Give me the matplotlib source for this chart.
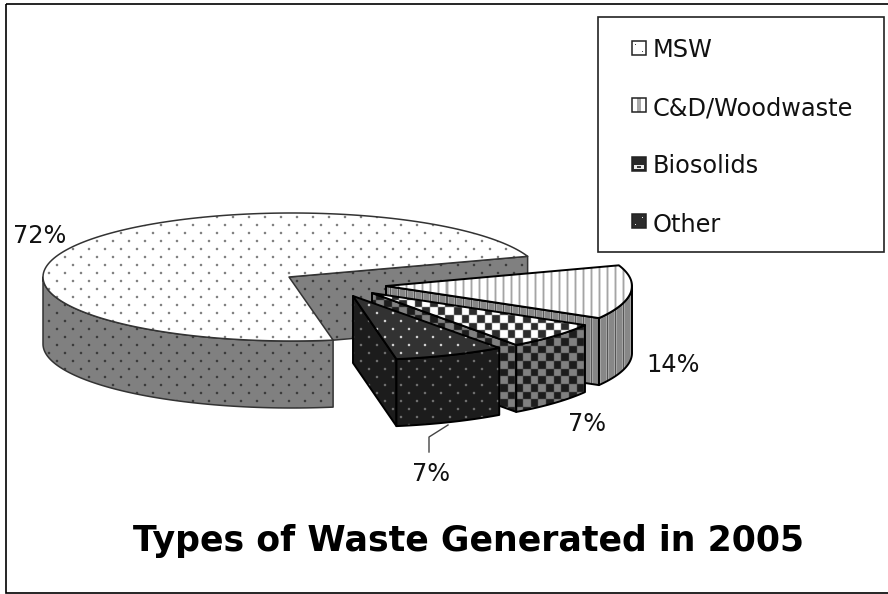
import numpy as np
import matplotlib
matplotlib.use("Agg")
import matplotlib.pyplot as plt
from matplotlib.patches import Polygon, Rectangle

# ---- data ----
categories = ["MSW", "C&D/Woodwaste", "Biosolids", "Other"]
shares = [72.4, 13.6, 6.7, 7.3]
title_text = "Types of Waste Generated in 2005"

# ---- layout (pixels) ----
W, H = 888, 594
RX = [249.0, 245.0, 245.0, 245.0]
RY, DEPTH = 64.0, 67.0
START_ANGLE = 279.5
APEX = [(289, 277), (386, 286), (372, 293), (353, 296)]
RIM_CENTER = [(292, 277), (387, 286), (373, 293), (356, 296)]
LABEL_POS = [(13, 243), (646, 372), (568, 431), (412, 481)]
LEGEND_Y = [57, 115, 173, 232]
SWATCH_Y = [41, 98, 157, 214]

yy, xx = np.mgrid[0:H, 0:W]


def soften(a):
    k = 0.12
    out = a * (1 - 4 * k)
    for ax_, s in ((0, 1), (0, -1), (1, 1), (1, -1)):
        out = out + k * np.roll(a, s, axis=ax_)
    return out


def dots(bg, fg):
    row = yy // 8
    mask = (((xx + 8 * (row % 2)) % 16) < 2) & ((yy % 8) < 2)
    return soften(np.where(mask, fg, bg).astype(float))


def stripes(bg, fg, mid):
    m = xx % 8
    a = np.full((H, W), float(bg))
    a[m == 5] = mid
    a[m == 6] = fg
    a[m == 7] = mid
    return a


def checks(c1, c2):
    m = (np.floor(xx / 7.67) + np.floor(yy / 7.67)) % 2
    return soften(np.where(m == 0, c1, c2).astype(float))


top_tex = [dots(255, 90), stripes(255, 165, 215), checks(255, 45), dots(50, 255)]
side_tex = [dots(128, 40), stripes(135, 85, 165), checks(128, 28), dots(28, 135)]
edges = ["#333333", "black", "black", "black"]
widths = [1.1, 1.4, 1.4, 1.4]

fig = plt.figure(figsize=(W / 100, H / 100), dpi=100)
ax = fig.add_axes([0, 0, 1, 1])
ax.set_xlim(0, W)
ax.set_ylim(H, 0)
ax.axis("off")

ax_z = [2]


def face(pts, tex, edge, lw):
    poly = Polygon(np.asarray(pts), closed=True, fc="none", ec=edge, lw=lw,
                   joinstyle="round", zorder=ax_z[0] + 1)
    im = ax.imshow(tex, extent=(0, W, H, 0), cmap="gray", vmin=0, vmax=255,
                   interpolation="nearest", aspect="auto", zorder=ax_z[0])
    ax.add_patch(poly)
    im.set_clip_path(poly)
    ax_z[0] += 2


def rim(c, rx, t0, t1, n=80):
    t = np.radians(np.linspace(t0, t1, n))
    return np.column_stack([c[0] + rx * np.cos(t), c[1] - RY * np.sin(t)])


def wedge_edges(vals, start):
    # slices run clockwise from start
    out = []
    a = start
    for v in vals:
        b = a - v * 3.6
        out.append((b, a))  # (t0, t1) counter-clockwise
        a = b
    return out


for i, (t0, t1) in enumerate(wedge_edges(shares, START_ANGLE)):
    apex = np.array(APEX[i], float)
    c = np.array(RIM_CENTER[i], float)
    rx = RX[i]
    drop = np.array([0, DEPTH])
    end0 = rim(c, rx, t0, t0, 1)[0]
    end1 = rim(c, rx, t1, t1, 1)[0]
    # cut walls, when they face the viewer
    if np.sin(np.radians(t0 - 90)) < 0:
        face([apex, end0, end0 + drop, apex + drop], side_tex[i], edges[i], widths[i])
    if np.sin(np.radians(t1 + 90)) < 0:
        face([apex, end1, end1 + drop, apex + drop], side_tex[i], edges[i], widths[i])
    # outer curved wall: the part on the viewer's side
    if i == 0:
        a, b = 180.0, t1
    else:
        a, b = max(t0, -180.0), min(t1, 0.0)
    if b > a:
        arc = rim(c, rx, a, b)
        face(np.vstack([arc, (arc + drop)[::-1]]), side_tex[i], edges[i], widths[i])
    # top
    face(np.vstack([apex, rim(c, rx, t0, t1, 160)]), top_tex[i], edges[i], widths[i])

# labels
for (x, y), v in zip(LABEL_POS, shares):
    ax.text(x, y, f"{round(v)}%", fontsize=17.3, ha="left", va="baseline", color="#111111", zorder=100)
leader = np.array([(448, 425), (429, 437), (429, 452)])
ax.plot(leader[:, 0], leader[:, 1], color="#444444", lw=1, zorder=100)

# title
ax.text(133, 551, title_text, fontsize=25, fontweight="bold", ha="left", va="baseline", color="black", zorder=100)

# frame
ax.add_patch(Rectangle((6, 4), W + 20, 589, fc="none", ec="black", lw=1.2, zorder=120))

# legend
ax.add_patch(Rectangle((598, 17), 286, 235, fc="white", ec="#222222", lw=1.2, zorder=101))


def swatch(kind):
    a = np.full((14, 14), 255.0)
    if kind == 0:
        a[3, 3] = a[10, 10] = 70
    elif kind == 1:
        a[:, 5:9] = 170
    elif kind == 2:
        a[:, :] = 40
        a[8:12, 2:12] = 235
        a[9:11, 5:9] = 60
    else:
        a[:, :] = 45
        a[3, 10] = a[10, 3] = 235
    return a


for i, name in enumerate(categories):
    y0 = SWATCH_Y[i]
    ax.imshow(swatch(i), extent=(632, 646, y0 + 14, y0), cmap="gray", vmin=0, vmax=255,
              interpolation="nearest", aspect="auto", zorder=102)
    ax.add_patch(Rectangle((632, y0), 14, 14, fc="none", ec="#222222", lw=1.1, zorder=103))
    ax.text(653, LEGEND_Y[i], name, fontsize=17.3, ha="left", va="baseline", color="#111111", zorder=104)

ax.set_xlim(0, W)
ax.set_ylim(H, 0)
fig.savefig("out.png", dpi=100, facecolor="white")
